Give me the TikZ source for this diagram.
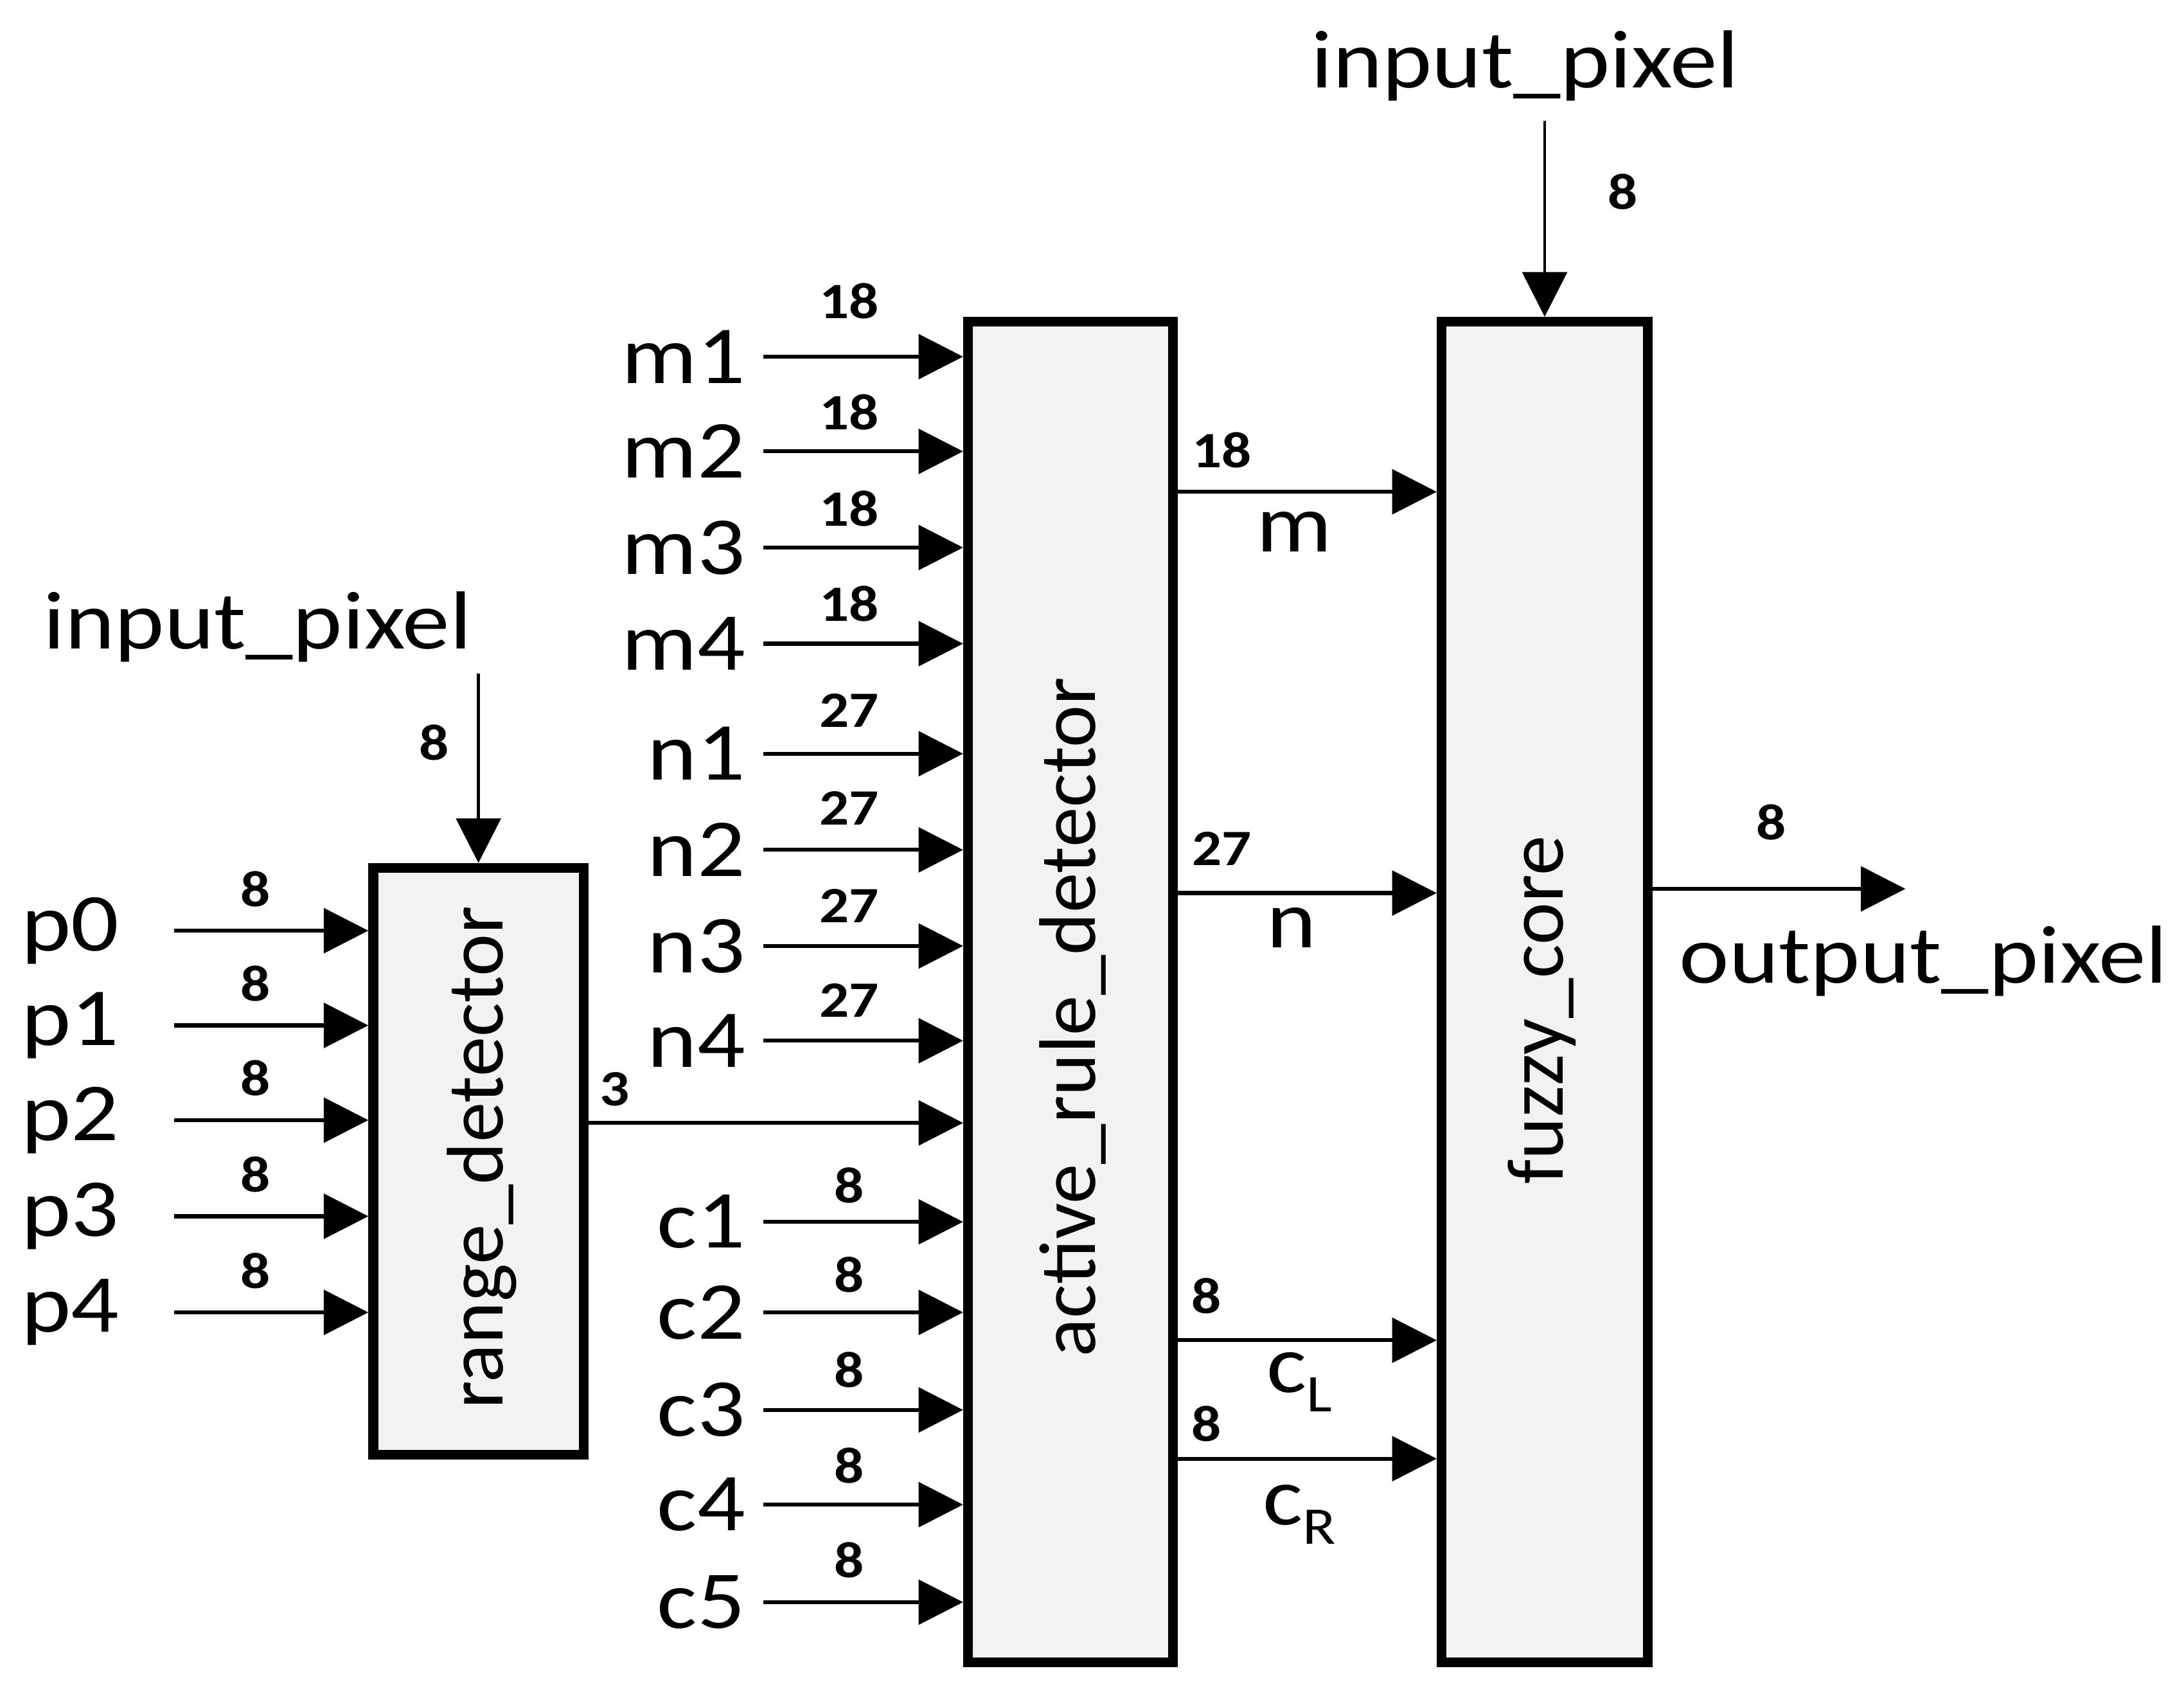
\documentclass[tikz,border=0pt]{standalone}
\usepackage{fontspec}
\setmainfont{Carlito}
\usetikzlibrary{arrows.meta}
\definecolor{boxgray}{HTML}{F2F2F2}
\newcommand{\wx}[1]{\scalebox{1.15}[1]{#1}}
\begin{document}
\begin{tikzpicture}[x=0.025cm,y=-0.025cm,
  sig/.style={line width=2pt,-{Triangle[length=0.8cm,width=0.8cm]}},
  thinsig/.style={sig,line width=1.5pt},
  blk/.style={draw,line width=5pt,fill=boxgray,inner sep=0pt,rectangle},
  btxt/.style={rotate=90,font=\fontsize{41}{41}\selectfont,inner sep=0pt},
  lbl/.style={font=\fontsize{42}{42}\selectfont,inner sep=0pt},
  num/.style={font=\fontsize{26}{26}\selectfont\bfseries,inner sep=0pt}]
\path[use as bounding box] (0,0) rectangle (1568,1212);
% blocks
\node[blk,minimum width=3.775cm,minimum height=10.525cm] (rd) at (343.5,833.5) {};
\node[blk,minimum width=3.675cm,minimum height=24.05cm] (ar) at (768.5,712) {};
\node[blk,minimum width=3.7cm,minimum height=24.05cm] (fc) at (1109,712) {};
\node[btxt] (rdt) at (346,831) {range\_detector};
\node[btxt] (art) at (770,730) {active\_rule\_detector};
\node[btxt] (fct) at (1107,725) {fuzzy\_core};
% p inputs
\foreach \n/\y in {p0/668,p1/736,p2/804,p3/873,p4/942}{
  \node[lbl,anchor=west] (\n) at (15,\y) {\wx{\n}};
  \coordinate (s\n) at (125,\y);
  \draw[sig] (s\n) -- (s\n -| rd.west) node[num,pos=.42,yshift=.75cm]{\wx{8}};
}
% input pixel to range detector
\node[lbl] (ip1) at (185,450) {\wx{input\_pixel}};
\draw[thinsig,shorten <=0.2cm] (rd.north |- ip1.south) -- (rd.north) node[num,pos=.4,xshift=-.8cm]{\wx{8}};
% m, n, c inputs
\foreach \n/\y/\w/\d in {m1/256/18/1.0,m2/324/18/.7,m3/393/18/.7,m4/462/18/.72,
  n1/541/27/.77,n2/610/27/.75,n3/679/27/.72,n4/747/27/.72,
  c1/877/8/.65,c2/942/8/.68,c3/1012/8/.72,c4/1080/8/.7,c5/1150/8/.75}{
  \node[lbl,anchor=east,outer sep=0.325cm] (\n) at (548,\y) {\wx{\n}};
  \draw[sig] (\n.east) -- (\n.east -| ar.west) node[num,pos=.43,yshift=\d cm]{\wx{\w}};
}
% range detector output
\coordinate (r3) at (0,806);
\draw[sig] (rd.east |- r3) -- (ar.west |- r3) node[num,pos=.07,yshift=.6cm]{\wx{3}};
% active rule detector outputs
\coordinate (ym) at (0,353);
\coordinate (yn) at (0,641);
\coordinate (ycl) at (0,962);
\coordinate (ycr) at (0,1047);
\draw[sig] (ar.east |- ym) -- (fc.west |- ym) node[num,pos=.17,yshift=.75cm]{\wx{18}} node[lbl,pos=.45,yshift=-.72cm]{\wx{m}};
\draw[sig] (ar.east |- yn) -- (fc.west |- yn) node[num,pos=.17,yshift=.8cm]{\wx{27}} node[lbl,pos=.44,yshift=-.62cm]{\wx{n}};
\draw[sig] (ar.east |- ycl) -- (fc.west |- ycl) node[num,pos=.11,yshift=.8cm]{\wx{8}} node[lbl,pos=.47,yshift=-.75cm]{\wx{c\raisebox{-10pt}{\fontsize{27}{27}\selectfont L}}};
\draw[sig] (ar.east |- ycr) -- (fc.west |- ycr) node[num,pos=.11,yshift=.62cm]{\wx{8}} node[lbl,pos=.47,yshift=-1.0cm]{\wx{c\raisebox{-10pt}{\fontsize{27}{27}\selectfont R}}};
% fuzzy core input pixel
\node[lbl] (ip2) at (1095,47) {\wx{input\_pixel}};
\draw[thinsig,shorten <=0.35cm] (fc.north |- ip2.south) -- (fc.north) node[num,pos=.42,xshift=1.4cm]{\wx{8}};
% output
\coordinate (oend) at (1368,638);
\draw[sig] (fc.east |- oend) -- (oend) node[num,pos=.47,yshift=1.2cm]{\wx{8}};
\node[lbl] (op) at (1381,690) {\wx{output\_pixel}};
\end{tikzpicture}
\end{document}
